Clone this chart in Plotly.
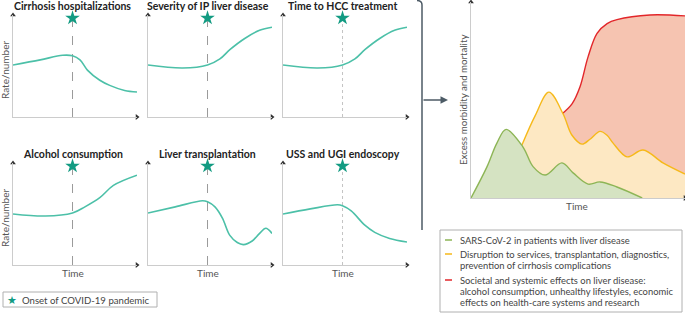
import plotly.graph_objects as go

W, H = 685, 314
FONT = "Lato"
TEAL = "#4cc0a8"
STAR_C = "#129b82"
GREEN_L, GREEN_F = "#8db556", "#d5e3c2"
YEL_L, YEL_F = "#f6b91a", "#fde8c3"
RED_L, RED_F = "#e2262a", "#f6c4b1"

# ---------------- data ----------------
PANDEMIC_ONSET = 4.8      # time of COVID-19 onset (panel time units 0-10)
STAR_LEVEL = 9.7

panel_titles = ["Cirrhosis hospitalizations", "Severity of IP liver disease", "Time to HCC treatment",
                "Alcohol consumption", "Liver transplantation", "USS and UGI endoscopy"]

cirrhosis_t = [0, 2.2, 4.0, 4.8, 5.4, 6.0, 7.0, 7.8, 9.0, 10]
cirrhosis_v = [5.1, 5.6, 6.05, 6.0, 5.6, 4.6, 3.6, 3.1, 2.6, 2.45]

severity_t = [0, 2.8, 4.8, 5.8, 6.6, 7.8, 9.0, 10]
severity_v = [5.1, 4.8, 5.1, 5.7, 6.6, 7.7, 8.5, 8.8]

hcc_t = [0, 2.8, 4.8, 5.8, 6.6, 7.8, 9.0, 10]
hcc_v = [5.1, 4.8, 5.1, 5.7, 6.6, 7.7, 8.5, 8.8]

alcohol_t = [0, 2.6, 4.8, 5.8, 7.0, 8.1, 10]
alcohol_v = [5.0, 4.8, 5.1, 5.7, 6.6, 7.8, 8.8]

transplant_t = [0, 2.2, 4.4, 4.8, 5.4, 6.0, 6.6, 7.2, 7.7, 8.4, 9.0, 9.5, 10]
transplant_v = [5.1, 5.7, 6.3, 6.2, 5.7, 4.6, 2.9, 2.2, 2.0, 2.35, 3.1, 3.6, 3.1]

uss_t = [0, 2.2, 4.4, 4.8, 5.5, 6.6, 7.4, 8.6, 10]
uss_v = [5.0, 5.5, 5.9, 5.8, 5.3, 3.9, 3.2, 2.6, 2.25]

sars_t = [0, 0.75, 1.21, 1.64, 2.43, 2.9, 3.46, 4.25, 4.77, 5.47, 6.03, 6.82, 8.0]
sars_v = [0, 1.6, 2.8, 3.5, 2.6, 1.6, 1.17, 1.79, 1.28, 0.71, 0.82, 0.56, 0]

disruption_t = [2.38, 3.0, 3.64, 4.3, 4.72, 5.19, 5.56, 6.03, 6.36, 6.64, 7.29, 8.04, 8.97, 10]
disruption_v = [2.7, 4.2, 5.4, 4.3, 3.2, 2.75, 3.0, 3.4, 3.2, 2.8, 2.1, 2.45, 1.79, 1.22]

societal_t = [4.25, 4.72, 5.09, 5.47, 5.89, 6.36, 6.82, 8.36, 10]
societal_v = [4.29, 4.8, 5.66, 7.2, 8.4, 8.9, 9.1, 9.34, 9.29]

legend_right = [
    (GREEN_L, ["SARS-CoV-2 in patients with liver disease"]),
    (YEL_L, ["Disruption to services, transplantation, diagnostics,",
             "prevention of cirrhosis complications"]),
    (RED_L, ["Societal and systemic effects on liver disease:",
             "alcohol consumption, unhealthy lifestyles, economic",
             "effects on health-care systems and research"]),
]

# ---------------- layout helpers ----------------
def px(x):
    return x / W

def py(y):
    return 1 - y / H

col_px = [(13, 137), (148, 272), (283, 407)]
row_px = [(15, 117), (163, 265)]
dash_style = ["dash", "dash", "dot", "dash", "dash", "dot"]
dash_col = ["#9a9a9a", "#9a9a9a", "#c4c4c4", "#9a9a9a", "#9a9a9a", "#c4c4c4"]
series = [(cirrhosis_t, cirrhosis_v), (severity_t, severity_v), (hcc_t, hcc_v),
          (alcohol_t, alcohol_v), (transplant_t, transplant_v), (uss_t, uss_v)]

fig = go.Figure()
layout = dict(width=W, height=H, margin=dict(l=0, r=0, t=0, b=0),
              paper_bgcolor="white", plot_bgcolor="rgba(0,0,0,0)", showlegend=False,
              font=dict(family=FONT, color="#444"))
annotations = []
shapes = []

AX_LINE = "#cccccc"
ARROW_C = "#333333"

def add_axes(i, xdom, ydom):
    xa = "xaxis" if i == 1 else f"xaxis{i}"
    ya = "yaxis" if i == 1 else f"yaxis{i}"
    layout[xa] = dict(domain=xdom, range=[0, 10], showgrid=False, zeroline=False,
                      showticklabels=False, ticks="", showline=True, linecolor=AX_LINE,
                      linewidth=1, anchor=f"y{'' if i == 1 else i}", fixedrange=True)
    layout[ya] = dict(domain=ydom, range=[0, 10], showgrid=False, zeroline=False,
                      showticklabels=False, ticks="", showline=True, linecolor=AX_LINE,
                      linewidth=1, anchor=f"x{'' if i == 1 else i}", fixedrange=True)
    return f"x{'' if i == 1 else i}", f"y{'' if i == 1 else i}"

def arrowheads(xr, yr):
    fig.add_trace(go.Scatter(x=[10, 0], y=[0, 10], mode="markers", xaxis=xr, yaxis=yr,
                             marker=dict(symbol=["triangle-right", "triangle-up"], size=5,
                                         color=ARROW_C), cliponaxis=False, hoverinfo="skip"))

for k in range(6):
    r, c = divmod(k, 3)
    x0, x1 = col_px[c]
    ytop, ybot = row_px[r]
    xr, yr = add_axes(k + 1, [px(x0), px(x1)], [py(ybot), py(ytop)])
    t, v = series[k]
    # dashed onset line
    fig.add_trace(go.Scatter(x=[PANDEMIC_ONSET, PANDEMIC_ONSET], y=[0, STAR_LEVEL], mode="lines",
                             xaxis=xr, yaxis=yr, line=dict(color=dash_col[k], width=1, dash=dash_style[k]),
                             hoverinfo="skip"))
    fig.add_trace(go.Scatter(x=t, y=v, mode="lines", xaxis=xr, yaxis=yr,
                             line=dict(color=TEAL, width=1.6, shape="spline", smoothing=1.0),
                             hoverinfo="skip"))
    fig.add_trace(go.Scatter(x=[PANDEMIC_ONSET], y=[STAR_LEVEL], mode="markers", xaxis=xr, yaxis=yr,
                             marker=dict(symbol="star", size=11, color=STAR_C), cliponaxis=False,
                             hoverinfo="skip"))
    arrowheads(xr, yr)
    # title
    xc = x0 + (x1 - x0) * PANDEMIC_ONSET / 10
    annotations.append(dict(x=px(xc), y=py(6 if r == 0 else 154), xref="paper", yref="paper",
                            text=f"<b>{panel_titles[k]}</b>", showarrow=False,
                            font=dict(size=10.5, color="#222", family=FONT),
                            xanchor="center", yanchor="middle"))
    if c == 0:
        annotations.append(dict(x=px(5), y=py((ytop + ybot) / 2 + 4), xref="paper", yref="paper",
                                text="Rate/number", textangle=-90, showarrow=False,
                                font=dict(size=10, color="#555", family=FONT),
                                xanchor="center", yanchor="middle"))
    if r == 1:
        annotations.append(dict(x=px(xc), y=py(273), xref="paper", yref="paper", text="Time",
                                showarrow=False, font=dict(size=10, color="#555", family=FONT),
                                xanchor="center", yanchor="middle"))

# ---------------- right panel ----------------
xr, yr = add_axes(7, [px(471), px(685)], [py(198), py(2)])
fig.add_trace(go.Scatter(x=societal_t, y=societal_v, mode="lines", xaxis=xr, yaxis=yr, fill="tozeroy",
                         fillcolor=RED_F, line=dict(color=RED_L, width=1.4, shape="spline"),
                         hoverinfo="skip"))
fig.add_trace(go.Scatter(x=disruption_t, y=disruption_v, mode="lines", xaxis=xr, yaxis=yr, fill="tozeroy",
                         fillcolor=YEL_F, line=dict(color=YEL_L, width=1.4, shape="spline"),
                         hoverinfo="skip"))
fig.add_trace(go.Scatter(x=sars_t, y=sars_v, mode="lines", xaxis=xr, yaxis=yr, fill="tozeroy",
                         fillcolor=GREEN_F, line=dict(color=GREEN_L, width=1.4, shape="spline"),
                         hoverinfo="skip"))
arrowheads(xr, yr)
annotations.append(dict(x=px(577), y=py(206), xref="paper", yref="paper", text="Time", showarrow=False,
                        font=dict(size=10, color="#555", family=FONT), xanchor="center", yanchor="middle"))
annotations.append(dict(x=px(463), y=py(100), xref="paper", yref="paper",
                        text="Excess morbidity and mortality", textangle=-90, showarrow=False,
                        font=dict(size=9.7, color="#555", family=FONT), xanchor="center", yanchor="middle"))

# brace + arrow
BR = "#4d5b66"
shapes.append(dict(type="path", xref="paper", yref="paper", line=dict(color=BR, width=1.5),
                   path=f"M {px(417)},{py(0.5)} Q {px(422)},{py(0.5)} {px(422)},{py(5)} L {px(422)},{py(230)}"))
annotations.append(dict(x=px(448), y=py(100), ax=-26, ay=0, xref="paper", yref="paper",
                        text="", showarrow=True, arrowhead=2,
                        arrowsize=1, arrowwidth=1.5, arrowcolor=BR))

# bottom-left legend
shapes.append(dict(type="rect", xref="paper", yref="paper", x0=px(3), x1=px(157), y0=py(307), y1=py(292),
                   line=dict(color="#b0b0b0", width=1)))
annotations.append(dict(x=px(12), y=py(300), xref="paper", yref="paper", text="★", showarrow=False,
                        font=dict(size=11, color=STAR_C, family="DejaVu Sans"),
                        xanchor="center", yanchor="middle"))
annotations.append(dict(x=px(20), y=py(300), xref="paper", yref="paper", text="Onset of COVID-19 pandemic",
                        showarrow=False, font=dict(size=9.6, color="#444", family=FONT),
                        xanchor="left", yanchor="middle"))

# right legend
shapes.append(dict(type="rect", xref="paper", yref="paper", x0=px(440), x1=px(682), y0=py(312), y1=py(230),
                   line=dict(color="#b0b0b0", width=1)))
ys = [[240], [254, 265], [280, 291, 302]]
for (col, lines), yl in zip(legend_right, ys):
    shapes.append(dict(type="line", xref="paper", yref="paper", x0=px(445), x1=px(452),
                       y0=py(yl[0]), y1=py(yl[0]), line=dict(color=col, width=1.5)))
    for txt, yy in zip(lines, yl):
        annotations.append(dict(x=px(458), y=py(yy), xref="paper", yref="paper", text=txt,
                                showarrow=False, font=dict(size=9.4, color="#444", family=FONT),
                                xanchor="left", yanchor="middle"))

layout["annotations"] = annotations
layout["shapes"] = shapes
fig.update_layout(**layout)
fig.write_html("out.html", config={"displayModeBar": False},
               post_script="document.body.style.margin='0';document.body.style.overflow='hidden';")
